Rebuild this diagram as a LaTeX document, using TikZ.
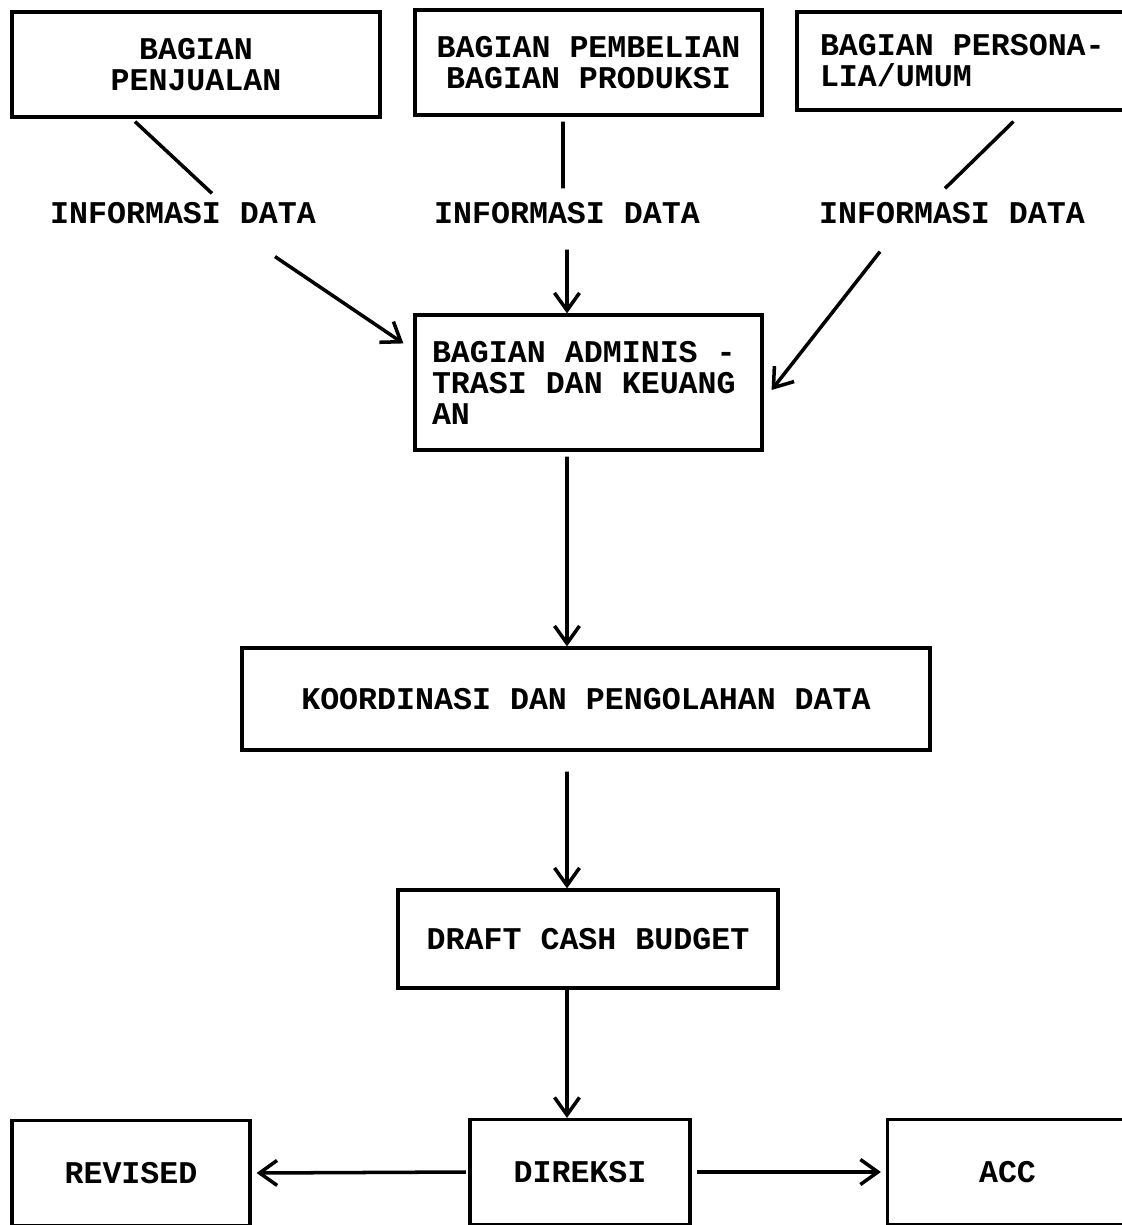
\documentclass[tikz,border=0pt]{standalone}
\usepackage{fontspec}
\setmonofont{Liberation Mono}
\usetikzlibrary{arrows.meta,positioning,calc}

\begin{document}
\begin{tikzpicture}[
    bx/.style={draw, line width=1.8pt, align=center, inner sep=0pt,
               font=\ttfamily\bfseries\fontsize{18}{17.6}\selectfont},
    lbx/.style={bx, align=left, execute at begin node={\spaceskip=0pt\xspaceskip=0pt}},
    lf/.style={font=\ttfamily\bfseries\fontsize{18}{21}\selectfont, inner sep=2pt},
    ed/.style={-, line width=2pt},
    ar/.style={-{Straight Barb[length=3.5mm,width=5mm,line width=2pt]}, line width=2pt}
  ]
    \useasboundingbox (0,0) rectangle (22.42,-24.5);
    \node[bx, minimum width=7.36cm, minimum height=2.1cm] (penj) at (3.92,-1.29)
      {BAGIAN\\PENJUALAN};
    \node[bx, minimum width=6.94cm, minimum height=2.1cm] (pemb) at (11.77,-1.25)
      {BAGIAN PEMBELIAN\\ BAGIAN PRODUKSI};
    \node[lbx, text width=6.14cm, inner xsep=0.46cm, minimum height=1.96cm] (pers) at (19.47,-1.22)
      {BAGIAN PERSONA-\\LIA/UMUM};
    \node[lf] (info1) at (3.66,-4.26) {INFORMASI DATA};
    \node[lf] (info2) at (11.34,-4.26) {INFORMASI DATA};
    \node[lf] (info3) at (19.04,-4.26) {INFORMASI DATA};
    \node[lbx, text width=6.26cm, inner xsep=0.34cm, minimum height=2.7cm] (adm) at (11.77,-7.65)
      {BAGIAN ADMINIS -\\TRASI DAN KEUANG\\AN};
    \node[bx, minimum width=13.76cm, minimum height=2.04cm] (koord) at (11.72,-13.98)
      {KOORDINASI DAN PENGOLAHAN DATA};
    \node[bx, minimum width=7.6cm, minimum height=1.96cm] (draft) at (11.76,-18.78)
      {DRAFT CASH BUDGET};
    \node[bx, minimum width=4.4cm, minimum height=2.1cm] (dir) at (11.6,-23.44) {DIREKSI};
    \node[bx, minimum width=4.76cm, minimum height=2.1cm] (rev) at (2.62,-23.46) {REVISED};
    \node[bx, minimum width=4.8cm, minimum height=2.1cm] (acc) at (20.15,-23.44) {ACC};
    \draw[ed] ([shift={(-1.22,-0.06)}]penj.south) -- ([shift={(0.58,0.10)}]info1.north);
    \draw[ed] ([shift={(-0.51,-0.10)}]pemb.south) -- ([shift={(-0.08,0.20)}]info2.north);
    \draw[ed] ([shift={(4.36,-0.20)}]pers.south west) -- ([shift={(-0.14,0.20)}]info3.north);
    \draw[ar] ([shift={(1.84,-0.58)}]info1.south) -- ([shift={(-0.20,-0.60)}]adm.north west);
    \draw[ar] ([shift={(0,-0.44)}]info2.south) -- ([xshift=-0.43cm]adm.north);
    \draw[ar] ([shift={(-1.44,-0.48)}]info3.south) -- ([shift={(0.16,-0.15)}]adm.east);
    \draw[ar] ([shift={(-0.43,-0.10)}]adm.south) -- ([xshift=-0.38cm]koord.north);
    \draw[ar] ([shift={(-0.38,-0.40)}]koord.south) -- ([xshift=-0.42cm]draft.north);
    \draw[ar] ([xshift=-0.42cm]draft.south) -- ([xshift=-0.26cm]dir.north);
    \draw[ar] ([xshift=-0.05cm]dir.west) -- ([xshift=0.1cm]rev.east);
    \draw[ar] ([xshift=0.1cm]dir.east) -- ([xshift=-0.1cm]acc.west);
  \end{tikzpicture}
\end{document}
